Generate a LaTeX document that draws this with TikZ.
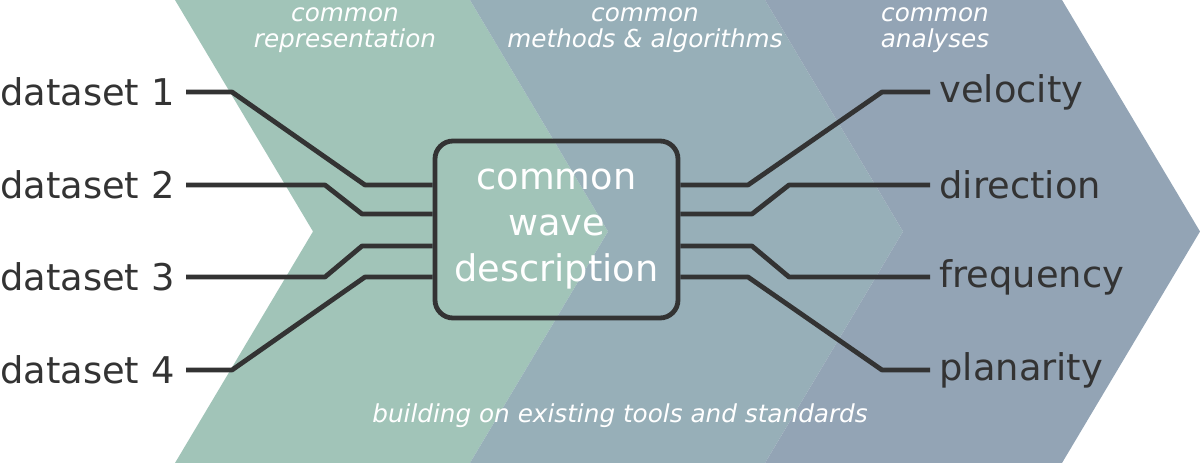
\documentclass[tikz,border=0pt]{standalone}
\usepackage{fontspec}
\setmainfont{DejaVu Sans}
\begin{document}
\begin{tikzpicture}[x=1pt,y=-1pt,
  wire/.style={draw=black!80, line width=4.8pt, line join=round},
  lab/.style={text=black!80, font=\fontsize{36.8}{40}\selectfont},
  hdr/.style={text=white, font=\itshape\fontsize{24.7}{26}\selectfont, align=center},
  lbl/.style={text=white, font=\fontsize{36.7}{46}\selectfont, align=center}]
\definecolor{chgreen}{HTML}{A1C4B8}
\definecolor{chmid}{HTML}{97AFB8}
\definecolor{chright}{HTML}{93A4B5}
\useasboundingbox (0,0) rectangle (1200,463);
\fill[chgreen] (175,0) -- (470,0) -- (608,231.5) -- (470,463) -- (175,463) -- (313,231.5) -- cycle;
\fill[chmid] (470,0) -- (765,0) -- (903,231.5) -- (765,463) -- (470,463) -- (608,231.5) -- cycle;
\fill[chright] (765,0) -- (1062,0) -- (1200,231.5) -- (1062,463) -- (765,463) -- (903,231.5) -- cycle;
\node[hdr] (h1) at (345,30) {common\\representation};
\node[hdr] (h2) at (645,30) {common\\methods \& algorithms};
\node[hdr] (h3) at (935,30) {common\\analyses};
\node[hdr] (h4) at (620,416) {building on existing tools and standards};
\node[draw=black!80, line width=4.8pt, rounded corners=18pt, minimum width=243pt, minimum height=177pt, lbl] (box) at (556.5,229.5) {common\\wave\\description};
\node[lab, anchor=east] (d1) at (178,92) {dataset 1};
\node[lab, anchor=east] (d2) at (178,185) {dataset 2};
\node[lab, anchor=east] (d3) at (178,277) {dataset 3};
\node[lab, anchor=east] (d4) at (178,370) {dataset 4};
\node[lab, anchor=west] (r1) at (936,92) {velocity};
\node[lab, anchor=west] (r2) at (936,185) {direction};
\node[lab, anchor=west] (r3) at (936,277) {frequency};
\node[lab, anchor=west] (r4) at (936,370) {planarity};
\draw[wire] ([xshift=8pt]d1.east) -- (232,92) -- (365,185) -- (box.west |- 0,185);
\draw[wire] ([xshift=8pt]d2.east) -- (325,185) -- (362,214) -- (box.west |- 0,214);
\draw[wire] ([xshift=8pt]d3.east) -- (325,277) -- (362,246) -- (box.west |- 0,246);
\draw[wire] ([xshift=8pt]d4.east) -- (232,370) -- (365,277) -- (box.west |- 0,277);
\draw[wire] (box.east |- 0,185) -- (748,185) -- (882,92) -- ([xshift=-6pt]r1.west);
\draw[wire] (box.east |- 0,214) -- (752,214) -- (789,185) -- ([xshift=-6pt]r2.west);
\draw[wire] (box.east |- 0,246) -- (752,246) -- (789,277) -- ([xshift=-6pt]r3.west);
\draw[wire] (box.east |- 0,277) -- (748,277) -- (882,370) -- ([xshift=-6pt]r4.west);
\end{tikzpicture}
\end{document}
